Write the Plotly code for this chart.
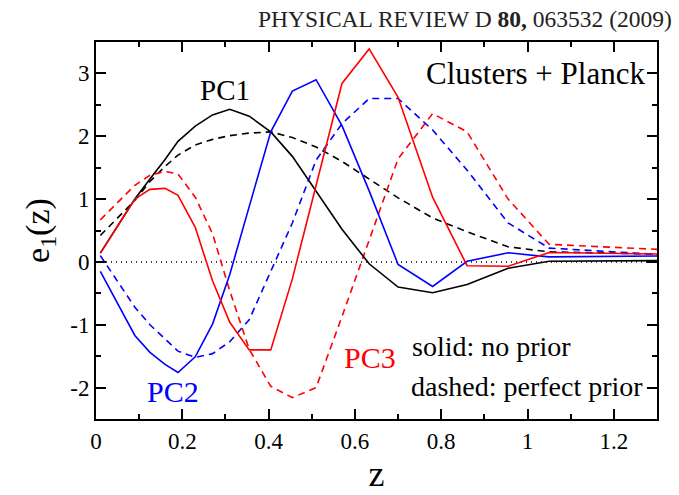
import plotly.graph_objects as go

# redshift nodes (shared grid)
z = [0.01, 0.09, 0.125, 0.16, 0.19, 0.23, 0.27, 0.31, 0.355, 0.405, 0.455,
     0.51, 0.57, 0.633, 0.70, 0.78, 0.86, 0.955, 1.05, 1.3]

pc1_solid = [0.14, 1.00, 1.32, 1.63, 1.92, 2.16, 2.34, 2.43, 2.32, 2.07, 1.68,
             1.13, 0.52, -0.03, -0.40, -0.49, -0.36, -0.10, 0.01, 0.02]
pc1_dashed = [0.42, 0.98, 1.28, 1.52, 1.70, 1.86, 1.95, 2.01, 2.05, 2.07, 1.98,
              1.83, 1.60, 1.32, 1.02, 0.70, 0.48, 0.24, 0.16, 0.125]

pc2_solid = [-0.15, -1.17, -1.44, -1.63, -1.76, -1.51, -0.99, -0.20, 0.88, 2.07, 2.72,
             2.90, 2.17, 1.13, -0.04, -0.39, 0.01, 0.145, 0.08, 0.095]
pc2_dashed = [0.10, -0.72, -1.00, -1.22, -1.42, -1.52, -1.46, -1.27, -0.92, -0.15, 0.62,
              1.62, 2.20, 2.60, 2.60, 2.10, 1.46, 0.62, 0.22, 0.12]

pc3_solid = [0.14, 1.00, 1.155, 1.17, 1.06, 0.55, -0.30, -0.96, -1.40, -1.40, -0.27,
             1.24, 2.84, 3.39, 2.62, 1.03, -0.06, -0.07, 0.15, 0.125]
pc3_dashed = [0.67, 1.22, 1.38, 1.44, 1.40, 1.03, 0.45, -0.46, -1.39, -1.98, -2.16,
              -2.00, -0.87, 0.35, 1.64, 2.36, 2.07, 1.00, 0.28, 0.20]

zero_x = [0.0, 1.3]
zero_y = [0.0, 0.0]

xtick_vals = [0, 0.2, 0.4, 0.6, 0.8, 1.0, 1.2]
xtick_text = ["0", "0.2", "0.4", "0.6", "0.8", "1", "1.2"]
ytick_vals = [-2, -1, 0, 1, 2, 3]
ytick_text = ["-2", "-1", "0", "1", "2", "3"]

SERIF = "Liberation Serif"
BLUE = "#0000ff"
RED = "#ff0000"
BLACK = "#000000"

fig = go.Figure()
fig.add_trace(go.Scatter(x=zero_x, y=zero_y, mode="lines",
                         line=dict(color=BLACK, width=1.5, dash="1px,4px")))
series = [
    (pc1_dashed, BLACK, "7px,5px"),
    (pc2_dashed, BLUE, "7px,5px"),
    (pc3_dashed, RED, "7px,5px"),
    (pc1_solid, BLACK, "solid"),
    (pc2_solid, BLUE, "solid"),
    (pc3_solid, RED, "solid"),
]
for ys, col, dash in series:
    fig.add_trace(go.Scatter(x=z, y=ys, mode="lines",
                             line=dict(color=col, width=1.6, dash=dash)))

axis_common = dict(
    showline=True, linecolor=BLACK, linewidth=2, mirror="allticks",
    ticks="inside", ticklen=10, tickwidth=1.5, tickcolor=BLACK,
    showgrid=False, zeroline=False,
    tickfont=dict(family=SERIF, size=23, color=BLACK),
)

fig.update_layout(
    width=679, height=495,
    margin=dict(l=96, r=22, t=42, b=62),
    paper_bgcolor="white", plot_bgcolor="white",
    showlegend=False,
    xaxis=dict(range=[0, 1.3], tickvals=xtick_vals, ticktext=xtick_text,
               minor=dict(dtick=0.1, tick0=0, ticks="inside", ticklen=5,
                          tickwidth=1.5, tickcolor=BLACK),
               title=dict(text="z", font=dict(family=SERIF, size=36, color=BLACK),
                          standoff=4),
               **axis_common),
    yaxis=dict(range=[-2.5, 3.5], tickvals=ytick_vals, ticktext=ytick_text,
               minor=dict(dtick=0.5, tick0=0, ticks="inside", ticklen=5,
                          tickwidth=1.5, tickcolor=BLACK),
               title=dict(text="e<sub>1</sub>(z)",
                          font=dict(family=SERIF, size=34, color=BLACK),
                          standoff=10),
               **axis_common),
)

fig.add_annotation(xref="paper", yref="paper", x=1.03, y=1 + 24 / 391,
                   xanchor="right", yanchor="middle", showarrow=False,
                   text="PHYSICAL REVIEW D <b>80,</b> 063532 (2009)",
                   font=dict(family=SERIF, size=23.5, color="#222222"))

ann = [
    (0.298, 2.73, "PC1", BLACK, "center"),
    (1.277, 3.0, "Clusters + Planck", BLACK, "right"),
    (0.179, -2.06, "PC2", BLUE, "center"),
    (0.636, -1.52, "PC3", RED, "center"),
    (0.727, -1.34, "solid: no prior", BLACK, "left"),
    (0.725, -1.98, "dashed: perfect prior", BLACK, "left"),
]
sizes = {"PC1": 29, "PC2": 30, "PC3": 30, "Clusters + Planck": 31,
         "solid: no prior": 28, "dashed: perfect prior": 28}
for x, y, t, c, anc in ann:
    fig.add_annotation(x=x, y=y, text=t, showarrow=False, xanchor=anc,
                       yanchor="middle",
                       font=dict(family=SERIF, size=sizes[t], color=c))

fig.write_html("out.html")
